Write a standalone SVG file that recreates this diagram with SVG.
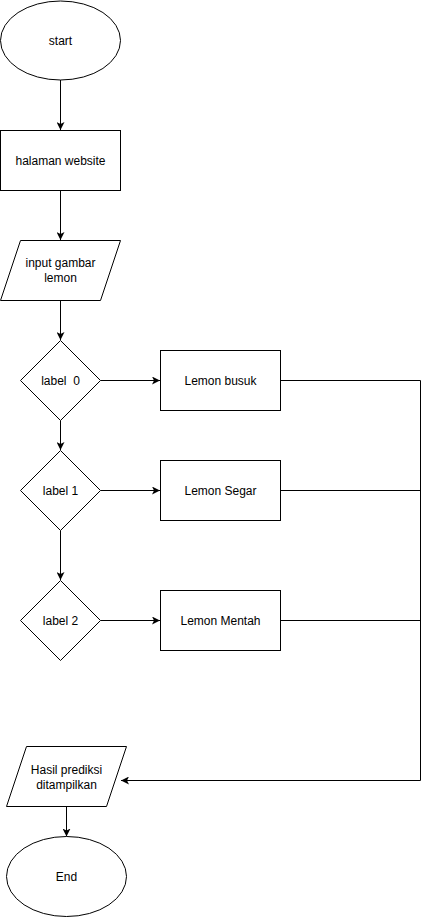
<svg xmlns="http://www.w3.org/2000/svg" width="430" height="919" viewBox="0 0 430 919">
<defs>
<marker id="arr" viewBox="0 0 10 10" refX="10" refY="5" markerWidth="8" markerHeight="8" markerUnits="userSpaceOnUse" orient="auto">
<path d="M0,0 L10,5 L0,10 L2.5,5 z" fill="#000" stroke="none"/>
</marker>
<style>
.s{fill:#fff;stroke:#000;stroke-width:1}
.e{fill:none;stroke:#000;stroke-width:1}
.a{fill:none;stroke:#000;stroke-width:1;marker-end:url(#arr)}
text{font-family:"Liberation Sans",Arial,Helvetica,sans-serif;font-size:12px;fill:#000;text-anchor:middle;white-space:pre}
</style>
</defs>
<rect width="430" height="919" fill="#fff"/>
<g id="connectors">
<line class="a" x1="60.5" y1="80" x2="60.5" y2="130"/>
<line class="a" x1="60.5" y1="190.5" x2="60.5" y2="240"/>
<line class="a" x1="60.5" y1="300.5" x2="60.5" y2="340"/>
<line class="a" x1="100.5" y1="380.5" x2="160" y2="380.5"/>
<line class="a" x1="60.5" y1="420.5" x2="60.5" y2="450"/>
<line class="a" x1="100.5" y1="490.5" x2="160" y2="490.5"/>
<line class="a" x1="60.5" y1="530.5" x2="60.5" y2="580"/>
<line class="a" x1="100.5" y1="620.5" x2="160" y2="620.5"/>
<line class="e" x1="280.5" y1="380.5" x2="420.5" y2="380.5"/>
<line class="e" x1="280.5" y1="490.5" x2="420.5" y2="490.5"/>
<line class="e" x1="280.5" y1="620.5" x2="420.5" y2="620.5"/>
<polyline class="a" points="420.5,380.5 420.5,780.5 121,780.5"/>
<line class="a" x1="66.5" y1="806.5" x2="66.5" y2="836.5"/>
</g>
<g id="start">
<ellipse class="s" cx="60.5" cy="40.5" rx="60" ry="39.5"/>
<text x="60.5" y="45">start</text>
</g>
<g id="halaman">
<rect class="s" x="0.5" y="130.5" width="120" height="60"/>
<text x="60.5" y="165">halaman website</text>
</g>
<g id="input">
<polygon class="s" points="20.5,240.5 120.5,240.5 100.5,300.5 0.5,300.5"/>
<text x="60.5" y="267">input gambar</text>
<text x="60.5" y="282">lemon</text>
</g>
<g id="label0">
<polygon class="s" points="60.5,340.5 100.5,380.5 60.5,420.5 20.5,380.5"/>
<text x="60.5" y="385">label  0</text>
</g>
<g id="busuk">
<rect class="s" x="160.5" y="350.5" width="120" height="60"/>
<text x="220.5" y="385">Lemon busuk</text>
</g>
<g id="label1">
<polygon class="s" points="60.5,450.5 100.5,490.5 60.5,530.5 20.5,490.5"/>
<text x="60.5" y="495">label 1</text>
</g>
<g id="segar">
<rect class="s" x="160.5" y="460.5" width="120" height="60"/>
<text x="220.5" y="495">Lemon Segar</text>
</g>
<g id="label2">
<polygon class="s" points="60.5,580.5 100.5,620.5 60.5,660.5 20.5,620.5"/>
<text x="60.5" y="625">label 2</text>
</g>
<g id="mentah">
<rect class="s" x="160.5" y="590.5" width="120" height="60"/>
<text x="220.5" y="625">Lemon Mentah</text>
</g>
<g id="hasil">
<polygon class="s" points="26.5,746.5 126.5,746.5 106.5,806.5 6.5,806.5"/>
<text x="66.5" y="774">Hasil prediksi</text>
<text x="66.5" y="789">ditampilkan</text>
</g>
<g id="end">
<ellipse class="s" cx="66.5" cy="876.5" rx="60" ry="40"/>
<text x="66.5" y="881">End</text>
</g>
</svg>
